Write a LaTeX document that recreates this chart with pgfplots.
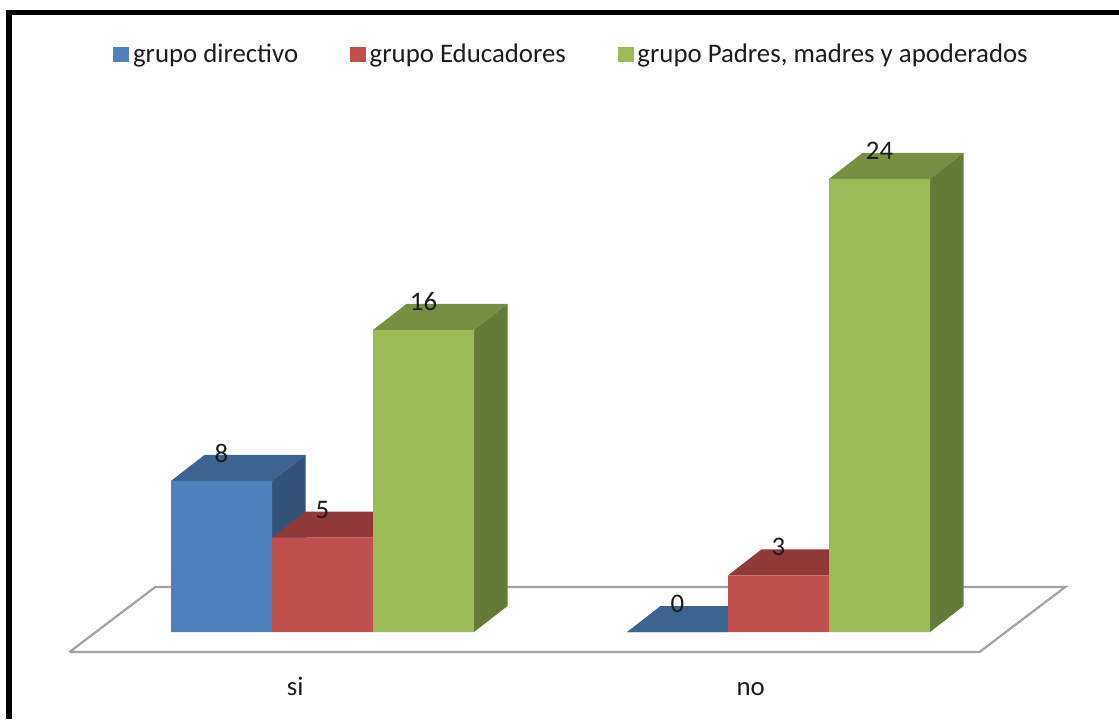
\documentclass[border=0pt]{standalone}
\usepackage{fontspec}
\setmainfont{Carlito}
\usepackage{pgfplots}
\pgfplotsset{compat=1.18}
\usetikzlibrary{calc}

\definecolor{blueF}{HTML}{4F81BD}
\definecolor{blueT}{HTML}{3D6390}
\definecolor{blueS}{HTML}{32527A}
\definecolor{redF}{HTML}{C0504D}
\definecolor{redT}{HTML}{8F3A38}
\definecolor{redS}{HTML}{7F3331}
\definecolor{greenF}{HTML}{9BBB59}
\definecolor{greenT}{HTML}{778F43}
\definecolor{greenS}{HTML}{657A38}
\definecolor{floorline}{HTML}{A3A3A3}
\definecolor{txt}{HTML}{1C1C1C}

% one bar: x0, x1, value, colour prefix
\newcommand{\onebar}[4]{
  \addplot3[forget plot,draw=none,fill=#4T] coordinates {(#1,0,#3) (#2,0,#3) (#2,1,#3) (#1,1,#3) (#1,0,#3)};
  \addplot3[forget plot,draw=none,fill=#4S] coordinates {(#2,0,0) (#2,1,0) (#2,1,#3) (#2,0,#3) (#2,0,0)};
  \addplot3[forget plot,draw=none,fill=#4F] coordinates {(#1,0,0) (#2,0,0) (#2,0,#3) (#1,0,#3) (#1,0,0)};
}

\begin{document}
\begin{tikzpicture}[every node/.append style={font=\fontsize{13.4}{15}\selectfont,text=txt}]
\begin{axis}[
    x={(50.5pt,0pt)}, y={(16.75pt,13pt)}, z={(0pt,9.44pt)},
    xmin=-0.75, xmax=8.28, ymin=-0.77, ymax=1.73, zmin=0, zmax=31,
    hide axis, clip=false,
    legend columns=3,
    legend cell align=left,
    legend style={at={(axis cs:-0.574,0,30.57)},anchor=west,draw=none,fill=none,inner sep=0pt,
      /tikz/column 1/.style={column sep=0pt},
      /tikz/column 2/.style={column sep=24pt},
      /tikz/column 3/.style={column sep=0pt},
      /tikz/column 4/.style={column sep=24pt},
      /tikz/column 5/.style={column sep=0pt}},
    legend image code/.code={\fill[#1] (0pt,-3.5pt) rectangle (7.4pt,3.6pt);},
]
% floor
\addplot3[forget plot,color=floorline,line width=1.1pt,line join=miter]
  coordinates {(-0.75,-0.77,0) (8.26,-0.77,0) (8.28,1.73,0) (-0.73,1.73,0) (-0.75,-0.77,0)};

% si
\onebar{0}{1}{8}{blue}
\onebar{1}{2}{5}{red}
\onebar{2}{3}{16}{green}
% no
\onebar{4.515}{5.515}{0}{blue}
\onebar{5.515}{6.515}{3}{red}
\onebar{6.515}{7.515}{24}{green}

\addlegendimage{blueF}\addlegendentry{grupo directivo}
\addlegendimage{redF}\addlegendentry{grupo Educadores}
\addlegendimage{greenF}\addlegendentry{grupo Padres, madres y apoderados}

\node at ([yshift=14pt]axis cs:0.5,0,8) {8};
\node at ([yshift=14pt]axis cs:1.5,0,5) {5};
\node at ([yshift=14pt]axis cs:2.5,0,16) {16};
\node at ([yshift=14pt]axis cs:5.015,0,0) {0};
\node at ([yshift=14pt]axis cs:6.015,0,3) {3};
\node at ([yshift=14pt]axis cs:7.015,0,24) {24};
\node[anchor=base] at ([yshift=-31.5pt]axis cs:1.23,0,0) {si};
\node[anchor=base] at ([yshift=-31.5pt]axis cs:5.74,0,0) {no};

\coordinate (o) at (axis cs:0,0,0);
\end{axis}
% frame, cut by the page at right and bottom
\draw[black,line width=2.6pt] ($(o)+(-81pt,-43.5pt)$) -- ($(o)+(-81pt,309.7pt)$) -- ($(o)+(474pt,309.7pt)$);
\pgfresetboundingbox
\path[use as bounding box] ($(o)+(-85.5pt,316pt)$) rectangle ($(o)+(474pt,-43.5pt)$);
\end{tikzpicture}
\end{document}
